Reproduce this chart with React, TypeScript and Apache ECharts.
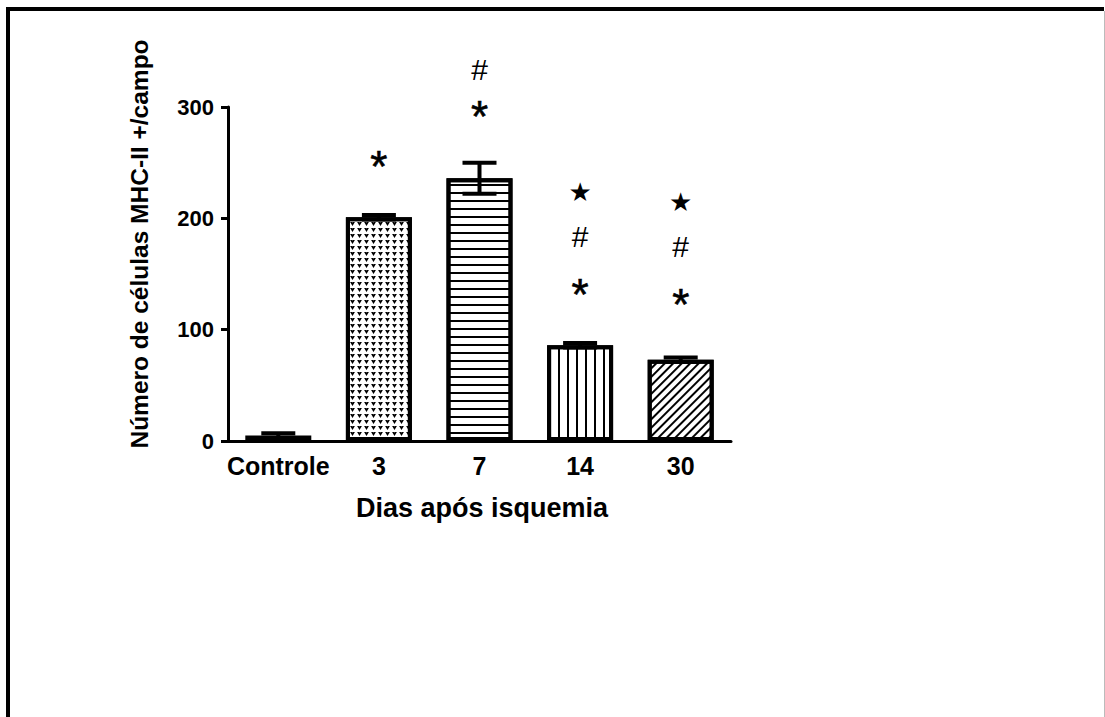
import React, { useEffect, useRef } from "react";
import * as echarts from "echarts";

const categories = ["Controle", "3", "7", "14", "30"];
const means = [5, 201, 236, 86, 73];
const sem = [2, 2, 14, 2, 2];
// annotation glyph centres (in y-axis units), null = none
const asteriskY = [null, 255, 300, 140, 131];
const hashY = [null, null, 334, 184, 175];
const starY = [null, null, null, 224, 215];
const yTicks = [0, 100, 200, 300];
const xTitle = "Dias após isquemia";
const yTitle = "Número de células MHC-II +/campo";

const FONT = "'Liberation Sans', Arial, Helvetica, sans-serif";

const decals: any[] = [
  null,
  {
    symbol: "path://M0,0 L2.6,0 L3,0.8 L3.4,0 L6,0 L3,5 Z",
    symbolSize: 1,
    dashArrayX: [4.2, 2],
    dashArrayY: [3.4, 1.8],
    color: "#000",
    backgroundColor: "#fff",
  },
  {
    symbol: "rect",
    symbolSize: 1,
    dashArrayX: [1, 0],
    dashArrayY: [1.5, 5.5],
    color: "#000",
    backgroundColor: "#fff",
  },
  {
    symbol: "rect",
    symbolSize: 1,
    dashArrayX: [1.5, 7],
    dashArrayY: [1, 0],
    color: "#000",
    backgroundColor: "#fff",
  },
  {
    symbol: "rect",
    symbolSize: 1,
    dashArrayX: [1, 0],
    dashArrayY: [1.3, 3.4],
    rotation: -Math.PI / 4,
    color: "#000",
    backgroundColor: "#fff",
  },
];

function annotationSeries(name: string, vals: (number | null)[], glyph: string, fontSize: number, dy: number, family: string) {
  const data: any[] = [];
  vals.forEach((v, i) => {
    if (v !== null) data.push([i, v]);
  });
  return {
    type: "custom",
    name,
    data,
    encode: { x: 0, y: 1 },
    clip: false,
    z: 5,
    renderItem: (params: any, api: any) => {
      const p = api.coord([api.value(0), api.value(1)]);
      return {
        type: "text",
        x: p[0],
        y: p[1] + dy,
        style: {
          text: glyph,
          fontSize,
          fontFamily: family,
          fill: "#000",
          stroke: "#000",
          lineWidth: glyph === "*" ? 0.6 : 0,
          align: "center",
          verticalAlign: "middle",
        },
      };
    },
  };
}

export default function App() {
  const ref = useRef<HTMLDivElement>(null);
  useEffect(() => {
    if (!ref.current) return;
    const chart = echarts.init(ref.current, null, { renderer: "svg" });
    const errData = means.map((m, i) => [i, m, sem[i]]);
    chart.setOption({
      animation: false,
      backgroundColor: "#fff",
      grid: { left: 228, top: 107, width: 503, height: 334 },
      xAxis: {
        type: "category",
        data: categories,
        axisLine: { lineStyle: { color: "#000", width: 3 } },
        axisTick: { alignWithLabel: true, length: 7, lineStyle: { color: "#000", width: 3 } },
        axisLabel: { interval: 0, color: "#000", fontSize: 25, fontWeight: "bold", fontFamily: FONT, margin: 12 },
      },
      yAxis: {
        type: "value",
        min: 0,
        max: 300,
        interval: 100,
        splitLine: { show: false },
        axisLine: { show: true, lineStyle: { color: "#000", width: 3 } },
        axisTick: { show: true, length: 7, lineStyle: { color: "#000", width: 3 } },
        axisLabel: {
          color: "#000",
          fontSize: 22,
          fontWeight: "bold",
          fontFamily: FONT,
          margin: 14,
          formatter: (v: number) => (yTicks.includes(v) ? String(v) : ""),
        },
      },
      series: [
        {
          type: "bar",
          barWidth: 66,
          data: means.map((m, i) => ({
            value: m,
            itemStyle: {
              color: "#fff",
              borderColor: "#000",
              borderWidth: 4,
              ...(decals[i] ? { decal: decals[i] } : {}),
            },
          })),
          z: 2,
        },
        {
          type: "custom",
          name: "sem",
          data: errData,
          encode: { x: 0, y: 1 },
          z: 4,
          renderItem: (params: any, api: any) => {
            const c = api.value(0);
            const m = api.value(1);
            const e = api.value(2);
            const hi = api.coord([c, m + e]);
            const lo = api.coord([c, m - e]);
            const half = 17;
            const st = { stroke: "#000", lineWidth: 4 };
            return {
              type: "group",
              children: [
                { type: "line", shape: { x1: hi[0], y1: hi[1], x2: lo[0], y2: lo[1] }, style: st },
                { type: "line", shape: { x1: hi[0] - half, y1: hi[1], x2: hi[0] + half, y2: hi[1] }, style: st },
                { type: "line", shape: { x1: lo[0] - half, y1: lo[1], x2: lo[0] + half, y2: lo[1] }, style: st },
              ],
            };
          },
        },
        annotationSeries("asterisk", asteriskY, "*", 44, 9, FONT),
        annotationSeries("hash", hashY, "#", 30, 0, FONT),
        annotationSeries("star", starY, "★", 26, 0, "'DejaVu Sans', sans-serif"),
      ],
      graphic: [
        {
          type: "text",
          x: 482,
          y: 508,
          style: { text: xTitle, fontSize: 27, fontWeight: "bold", fontFamily: FONT, fill: "#000", align: "center", verticalAlign: "middle" },
        },
        {
          type: "text",
          x: 139,
          y: 244,
          rotation: Math.PI / 2,
          style: { text: yTitle, fontSize: 24.5, fontWeight: "bold", fontFamily: FONT, fill: "#000", align: "center", verticalAlign: "middle" },
        },
        { type: "line", shape: { x1: 6, y1: 9, x2: 1104, y2: 9 }, style: { stroke: "#000", lineWidth: 4 } },
        { type: "line", shape: { x1: 8, y1: 7, x2: 8, y2: 717 }, style: { stroke: "#000", lineWidth: 4 } },
        { type: "line", shape: { x1: 1104.5, y1: 11, x2: 1104.5, y2: 717 }, style: { stroke: "#bbb", lineWidth: 1 } },
      ],
    });
    return () => chart.dispose();
  }, []);
  return <div ref={ref} style={{ position: "fixed", left: 0, top: 0, width: 1105, height: 717 }} />;
}
